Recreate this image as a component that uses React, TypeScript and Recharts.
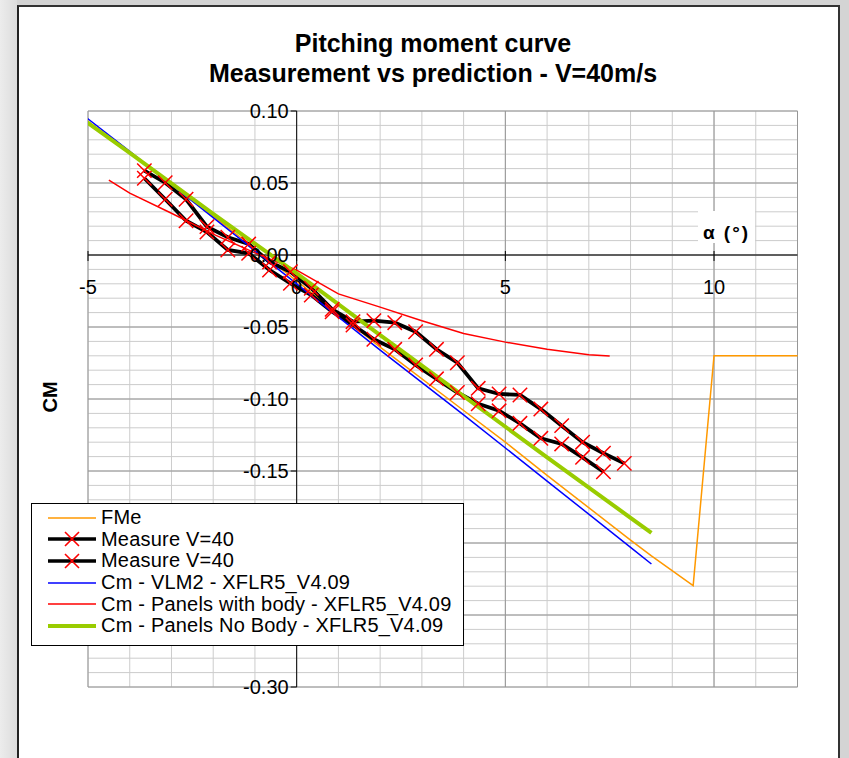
import { CartesianGrid, Line, LineChart, XAxis, YAxis } from "recharts";

// FMe
const fmeAlpha = [-5.2, -4, -2, 0, 2, 4, 5, 6, 8, 8.5, 9.5, 10, 12.2];
const fmeCm = [0.097, 0.071, 0.027, -0.018, -0.064, -0.108, -0.13, -0.153, -0.198, -0.209, -0.2296, -0.07, -0.07];

// Measure V=40, two runs
const measAlpha1 = [-3.65, -3.15, -2.65, -2.15, -1.65, -1.15, -0.65, -0.15, 0.35, 0.85, 1.35, 1.85, 2.35, 2.85, 3.35, 3.85, 4.35, 4.85, 5.35, 5.85, 6.35, 6.85, 7.35, 7.85];
const measCm1 = [0.0586, 0.0502, 0.0387, 0.0197, 0.0123, 0.0076, -0.0049, -0.0116, -0.0231, -0.0377, -0.0463, -0.0456, -0.047, -0.0533, -0.0655, -0.0748, -0.0926, -0.0965, -0.0972, -0.107, -0.1185, -0.13, -0.1377, -0.1447];
const measAlpha2 = [-3.65, -3.15, -2.65, -2.15, -1.65, -1.15, -0.65, -0.15, 0.35, 0.85, 1.35, 1.85, 2.35, 2.85, 3.35, 3.85, 4.35, 4.85, 5.35, 5.85, 6.35, 6.85, 7.35];
const measCm2 = [0.0533, 0.0387, 0.0238, 0.016, 0.0035, 0.0012, -0.0104, -0.0197, -0.0278, -0.0394, -0.0486, -0.0585, -0.0655, -0.0764, -0.086, -0.0955, -0.1033, -0.1082, -0.1169, -0.1273, -0.1312, -0.1405, -0.1505];

// XFLR5 predictions
const vlmAlpha = [-5.2, -4, -2, 0, 2, 4, 6, 8, 8.5];
const vlmCm = [0.099, 0.072, 0.026, -0.02, -0.066, -0.111, -0.157, -0.203, -0.2146];
const bodyAlpha = [-4.5, -4, -3, -2, -1, 0, 1, 2, 3, 4, 5, 6, 7, 7.5];
const bodyCm = [0.052, 0.043, 0.029, 0.0145, 0.0015, -0.0105, -0.027, -0.0362, -0.0456, -0.0545, -0.0605, -0.0655, -0.0692, -0.0701];
const noBodyAlpha = [-5.2, -4, -2, 0, 2, 4, 6, 8, 8.5];
const noBodyCm = [0.0958, 0.071, 0.0285, -0.0128, -0.0556, -0.098, -0.1405, -0.1825, -0.193];

// axis labels that are visible (-0.20 / -0.25 sit behind the legend)
const xLabelTicks = [-5, 0, 5, 10];
const yLabelTicks = [0.1, 0.05, 0, -0.05, -0.1, -0.15, -0.3];
const xMajor = [-5, 5, 10, 12];
const yMajor = [-0.3, -0.25, -0.2, -0.15, -0.1, -0.05, 0, 0.05, 0.1];
const xMinorTicks = Array.from({ length: 18 }, (_, i) => i - 5);
const yMinorTicks = Array.from({ length: 41 }, (_, i) => Math.round((-0.3 + i * 0.01) * 100) / 100);

const toPoints = (xs: number[], ys: number[]) => xs.map((x, i) => ({ x, y: ys[i] }));

const W = 849;
const H = 758;
const PLOT = { left: 88, right: 797.5, top: 111, bottom: 687 };
const ZERO_X = PLOT.left + (5 / 17) * (PLOT.right - PLOT.left);
const ZERO_Y = PLOT.top + (0.1 / 0.4) * (PLOT.bottom - PLOT.top);
const FONT = "'Liberation Sans', Arial, sans-serif";

const near = (list: number[], v: number) => list.some((t) => Math.abs(t - v) < 1e-6);

function XTick(props: any) {
  const { x, payload } = props;
  const v = payload.value;
  if (!near(xLabelTicks, v)) return <g />;
  return (
    <g>
      <line x1={x} x2={x} y1={ZERO_Y - 4} y2={ZERO_Y + 6} stroke="#000" />
      <text x={x} y={ZERO_Y + 32} dy="0.35em" textAnchor="middle" fontFamily={FONT} fontSize={20} fill="#000">
        {v}
      </text>
    </g>
  );
}

function YTick(props: any) {
  const { y, payload } = props;
  const v = payload.value;
  if (!near(yLabelTicks, v)) return <g />;
  return (
    <g>
      <line x1={ZERO_X - 6} x2={ZERO_X} y1={y} y2={y} stroke="#000" />
      <text x={ZERO_X - 8} y={y} dy="0.35em" textAnchor="end" fontFamily={FONT} fontSize={20} fill="#000">
        {v.toFixed(2)}
      </text>
    </g>
  );
}

function XMark(props: any) {
  const { cx, cy, index } = props;
  if (cx == null || cy == null) return <g key={index} />;
  const s = 7.2;
  return (
    <path
      key={index}
      d={`M${cx - s},${cy - s}L${cx + s},${cy + s}M${cx - s},${cy + s}L${cx + s},${cy - s}`}
      stroke="#ff0000"
      strokeWidth={1.5}
      fill="none"
    />
  );
}

const legendItems = [
  { name: "FMe", color: "#ff9900", width: 1.5, marker: false },
  { name: "Measure V=40", color: "#000000", width: 3.5, marker: true },
  { name: "Measure V=40", color: "#000000", width: 3.5, marker: true },
  { name: "Cm - VLM2 - XFLR5_V4.09", color: "#0000ff", width: 1.5, marker: false },
  { name: "Cm - Panels with body - XFLR5_V4.09", color: "#ff0000", width: 1.5, marker: false },
  { name: "Cm - Panels No Body - XFLR5_V4.09", color: "#99cc00", width: 4, marker: false },
];

export default function App() {
  return (
    <div style={{ position: "fixed", left: 0, top: 0, width: W, height: H, overflow: "hidden", background: "#d4d4d4" }}>
      <div style={{ position: "absolute", left: 0, top: 0, width: 17, height: H, background: "linear-gradient(to right, #ececec, #dcdcdc)" }} />
      <div
        style={{
          position: "absolute",
          left: 17,
          top: 5,
          width: 823,
          height: 800,
          background: "#fff",
          borderLeft: "2px solid #222",
          borderTop: "2px solid #333",
          borderRight: "2px solid #333",
          boxSizing: "border-box",
        }}
      />
      <div style={{ position: "absolute", left: 0, top: 0 }}>
        <LineChart
          width={W}
          height={H}
          margin={{ top: PLOT.top, left: PLOT.left - 1, right: W - PLOT.right, bottom: H - PLOT.bottom - 1 }}
        >
          <CartesianGrid stroke="#cccccc" strokeWidth={1} />
          <CartesianGrid stroke="#969696" strokeWidth={1} horizontalValues={yMajor} verticalValues={xMajor} />
          <CartesianGrid stroke="#000" strokeWidth={1} horizontalValues={[0]} verticalValues={[0]} />
          <XAxis
            type="number"
            dataKey="x"
            domain={[-5, 12]}
            allowDataOverflow
            ticks={xMinorTicks}
            interval={0}
            height={1}
            axisLine={false}
            tickLine={false}
            tick={<XTick />}
          />
          <YAxis
            type="number"
            domain={[-0.3, 0.1]}
            allowDataOverflow
            ticks={yMinorTicks}
            interval={0}
            width={1}
            axisLine={false}
            tickLine={false}
            tick={<YTick />}
          />
          <Line data={toPoints(fmeAlpha, fmeCm)} dataKey="y" stroke="#ff9900" strokeWidth={1.5} dot={false} isAnimationActive={false} />
          <Line data={toPoints(measAlpha1, measCm1)} dataKey="y" stroke="#000" strokeWidth={3.8} dot={XMark} isAnimationActive={false} />
          <Line data={toPoints(measAlpha2, measCm2)} dataKey="y" stroke="#000" strokeWidth={3.8} dot={XMark} isAnimationActive={false} />
          <Line data={toPoints(vlmAlpha, vlmCm)} dataKey="y" stroke="#0000ff" strokeWidth={1.5} dot={false} isAnimationActive={false} />
          <Line data={toPoints(bodyAlpha, bodyCm)} dataKey="y" stroke="#ff0000" strokeWidth={1.5} dot={false} isAnimationActive={false} />
          <Line data={toPoints(noBodyAlpha, noBodyCm)} dataKey="y" stroke="#99cc00" strokeWidth={4} dot={false} isAnimationActive={false} />
        </LineChart>
      </div>

      <div
        style={{
          position: "absolute",
          left: 17,
          top: 28,
          width: 832,
          textAlign: "center",
          fontFamily: FONT,
          fontWeight: "bold",
          fontSize: 25,
          lineHeight: "30px",
          color: "#000",
        }}
      >
        <div>Pitching moment curve</div>
        <div>Measurement vs prediction - V=40m/s</div>
      </div>

      <div
        style={{
          position: "absolute",
          left: 20,
          top: 385,
          width: 60,
          height: 24,
          lineHeight: "24px",
          textAlign: "center",
          transform: "rotate(-90deg)",
          fontFamily: FONT,
          fontWeight: "bold",
          fontSize: 20,
        }}
      >
        CM
      </div>

      <div
        style={{
          position: "absolute",
          left: 698,
          top: 211,
          width: 57,
          height: 32,
          background: "#fff",
          boxSizing: "border-box",
          paddingTop: 12,
          lineHeight: "20px",
          textAlign: "center",
          fontFamily: FONT,
          fontWeight: "bold",
          fontSize: 19,
          letterSpacing: 2,
          whiteSpace: "nowrap",
        }}
      >
        α (°)
      </div>

      <div
        style={{
          position: "absolute",
          left: 31,
          top: 503,
          width: 433,
          height: 143,
          boxSizing: "border-box",
          border: "1px solid #000",
          background: "#fff",
          paddingTop: 3,
        }}
      >
        {legendItems.map((item, i) => (
          <div key={i} style={{ display: "flex", alignItems: "center", height: 21.6 }}>
            <svg width={48} height={20} style={{ marginLeft: 16, flex: "none" }}>
              <line x1={0} x2={48} y1={10} y2={10} stroke={item.color} strokeWidth={item.width} />
              {item.marker && <path d="M17,3L31,17M17,17L31,3" stroke="#ff0000" strokeWidth={1.6} />}
            </svg>
            <span style={{ marginLeft: 5, fontFamily: FONT, fontSize: 20, letterSpacing: 0.2, whiteSpace: "nowrap", color: "#000" }}>
              {item.name}
            </span>
          </div>
        ))}
      </div>
    </div>
  );
}
